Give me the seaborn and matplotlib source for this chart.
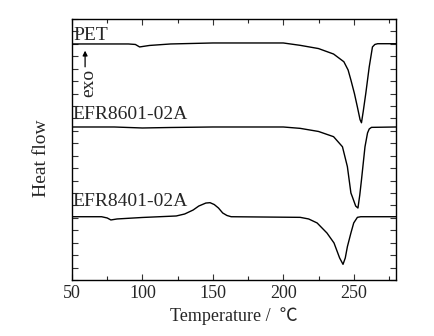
import numpy as np
import pandas as pd
import matplotlib
matplotlib.use("Agg")
import matplotlib.pyplot as plt
import seaborn as sns
from matplotlib.ticker import MultipleLocator

# ---- data (temperature in deg C, heat flow in arbitrary offset units) ----
pet_T = [50, 90, 95, 98, 105, 120, 150, 200, 212, 225, 235.7, 243, 246, 248, 250.5,
         252.6, 254.5, 255.5, 256.8, 258.6, 261, 263.3, 265, 267, 280]
pet_H = [18.99, 18.99, 18.95, 18.75, 18.87, 18.99, 19.07, 19.07, 18.88, 18.62, 18.18,
         17.56, 16.9, 16.09, 15.0, 13.92, 12.9, 12.65, 13.6, 15.04, 17.14, 18.75,
         18.95, 19.01, 19.01]

efr86_T = [50, 80, 100, 120, 150, 200, 212, 225, 235.7, 242, 245.5, 248, 249, 251.4,
           253, 254.3, 255.5, 258, 259.8, 261, 262.6, 280]
efr86_H = [12.31, 12.31, 12.23, 12.27, 12.31, 12.31, 12.20, 11.95, 11.53, 10.72, 9.12,
           7.00, 6.70, 5.95, 5.79, 6.84, 8.05, 10.72, 11.83, 12.15, 12.28, 12.31]

efr84_T = [50, 71, 75, 77.6, 82, 100, 124, 130, 136, 140, 145, 148, 151, 154, 157,
           160, 163, 212, 218, 224, 231, 236, 240, 242.4, 244, 245.5, 248, 250, 252.6,
           255, 280]
efr84_H = [5.09, 5.09, 4.99, 4.83, 4.91, 5.03, 5.15, 5.31, 5.63, 5.95, 6.19, 6.22,
           6.07, 5.79, 5.39, 5.19, 5.09, 5.04, 4.91, 4.59, 3.78, 2.98, 1.77, 1.26,
           1.77, 2.68, 3.78, 4.59, 5.04, 5.09, 5.09]

labels = ["PET", "EFR8601-02A", "EFR8401-02A"]
x_ticks = [50, 100, 150, 200, 250]

df = pd.concat([
    pd.DataFrame({"T": pet_T, "H": pet_H, "sample": labels[0]}),
    pd.DataFrame({"T": efr86_T, "H": efr86_H, "sample": labels[1]}),
    pd.DataFrame({"T": efr84_T, "H": efr84_H, "sample": labels[2]}),
])

sns.set_style("ticks")
plt.rcParams["font.family"] = ["Liberation Serif", "Noto Sans CJK SC", "DejaVu Serif"]
plt.rcParams["xtick.direction"] = "in"
plt.rcParams["ytick.direction"] = "in"

fig = plt.figure(figsize=(4.35, 3.36), dpi=100)
ax = fig.add_axes([0.1655, 0.1667, 0.7448, 0.7768])

for s in labels:
    sns.lineplot(data=df[df["sample"] == s], x="T", y="H", ax=ax, color="black",
                 linewidth=1.0, sort=False, estimator=None, legend=False)

ax.set_xlim(50, 280)
ax.set_ylim(0, 21)
ax.set_xticks(x_ticks)
ax.xaxis.set_minor_locator(MultipleLocator(25))
ax.yaxis.set_major_locator(MultipleLocator(1))
ax.set_yticklabels([])
ax.tick_params(axis="both", which="major", length=4, width=0.8, top=True, right=True,
               labelsize=13, color="#333333")
ax.tick_params(axis="x", which="minor", length=3, width=0.8, top=True)
for sp in ax.spines.values():
    sp.set_linewidth(1.0)
    sp.set_color("black")

ax.set_xlabel("Temperature /  \u2103", fontsize=13, labelpad=4)
ax.set_ylabel("Heat flow", fontsize=14)
ax.yaxis.set_label_coords(-0.068, 0.467)

ax.text(50.7, 19.3, labels[0], fontsize=14, va="baseline", ha="left")
ax.text(50.3, 12.95, labels[1], fontsize=14, va="baseline", ha="left")
ax.text(50.3, 5.95, labels[2], fontsize=14, va="baseline", ha="left")

ax.annotate("", xy=(59.3, 18.45), xytext=(59.3, 17.15),
            arrowprops=dict(arrowstyle="-|>", color="black", lw=0.9,
                            mutation_scale=7, shrinkA=0, shrinkB=0))
ax.text(61.6, 15.85, "exo", fontsize=14, rotation=90, ha="center", va="center")

fig.savefig("out.png", dpi=100)
